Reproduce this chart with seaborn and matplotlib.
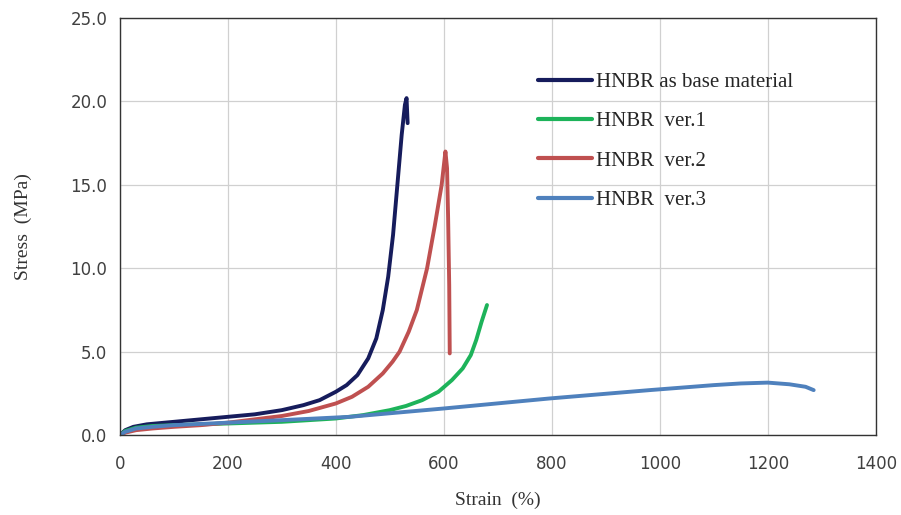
import pandas as pd
import matplotlib.pyplot as plt
import seaborn as sns

# ---- Curve values (strain %, stress MPa) ----
base_strain = [0, 10, 25, 50, 100, 150, 200, 250, 300, 340, 370, 400, 420, 440, 460,
               475, 487, 497, 506, 514, 522, 528, 531, 533]
base_stress = [0, 0.3, 0.5, 0.65, 0.8, 0.95, 1.1, 1.25, 1.5, 1.8, 2.1, 2.6, 3.0, 3.6, 4.6,
               5.8, 7.5, 9.5, 12.0, 15.0, 18.0, 19.8, 20.2, 18.7]

v1_strain = [0, 10, 30, 60, 100, 200, 300, 400, 450, 500, 530, 560, 590, 615, 635, 650,
             660, 670, 680]
v1_stress = [0, 0.25, 0.45, 0.55, 0.6, 0.7, 0.8, 1.0, 1.2, 1.5, 1.75, 2.1, 2.6, 3.3, 4.0, 4.8,
             5.7, 6.8, 7.8]

v2_strain = [0, 10, 30, 60, 100, 150, 200, 250, 300, 350, 400, 430, 460, 487, 505, 518,
             535, 550, 569, 583, 596, 603, 606, 608, 610, 611]
v2_stress = [0, 0.15, 0.3, 0.4, 0.5, 0.6, 0.75, 0.95, 1.15, 1.45, 1.9, 2.3, 2.9, 3.7, 4.4, 5.0,
             6.2, 7.5, 10.0, 12.5, 15.0, 17.0, 16.0, 13.0, 9.0, 4.9]

v3_strain = [0, 10, 30, 60, 100, 200, 300, 426, 600, 796, 981, 1100, 1150, 1200, 1240, 1270, 1285]
v3_stress = [0, 0.2, 0.4, 0.5, 0.6, 0.75, 0.9, 1.1, 1.6, 2.2, 2.7, 3.0, 3.1, 3.15, 3.05, 2.9, 2.7]

labels = ['HNBR as base material', 'HNBR  ver.1', 'HNBR  ver.2', 'HNBR  ver.3']
colors = ['#161c5c', '#1db35a', '#bf5050', '#4f81bd']

frames = []
for lab, xs, ys in zip(labels,
                       [base_strain, v1_strain, v2_strain, v3_strain],
                       [base_stress, v1_stress, v2_stress, v3_stress]):
    frames.append(pd.DataFrame({'strain': xs, 'stress': ys, 'sample': lab}))
df = pd.concat(frames, ignore_index=True)

sns.set_style('whitegrid')

fig = plt.figure(figsize=(9.01, 5.15), dpi=100)
ax = fig.add_axes([0.133, 0.155, 0.839, 0.81])

sns.lineplot(data=df, x='strain', y='stress', hue='sample', palette=colors,
             sort=False, estimator=None, linewidth=2.8, ax=ax)

ax.set_xlim(0, 1400)
ax.set_ylim(0, 25)
ax.set_xticks(range(0, 1401, 200))
ax.set_yticks([0, 5, 10, 15, 20, 25])
ax.set_yticklabels([f'{v:.1f}' for v in [0, 5, 10, 15, 20, 25]])
ax.tick_params(axis='both', labelsize=12, colors='#404040', length=0, pad=9)
ax.tick_params(axis='x', pad=14)
for lbl in ax.get_xticklabels() + ax.get_yticklabels():
    lbl.set_family('DejaVu Sans')

ax.grid(True, color='#d0d0d0', linewidth=0.9)
for side in ax.spines.values():
    side.set_color('#333333')
    side.set_linewidth(1.0)

ax.set_xlabel('Strain  (%)', family='Liberation Serif', fontsize=14, color='#333333', labelpad=14)
ax.set_ylabel('Stress  (MPa)', family='Liberation Serif', fontsize=14, color='#333333', labelpad=28)

leg = ax.legend(loc='upper left', bbox_to_anchor=(0.528, 0.915), frameon=False,
                prop={'family': 'Liberation Serif', 'size': 15},
                handlelength=2.6, handletextpad=0.2, labelspacing=0.95)
for line in leg.get_lines():
    line.set_linewidth(3)

fig.savefig('out.png', dpi=100)
